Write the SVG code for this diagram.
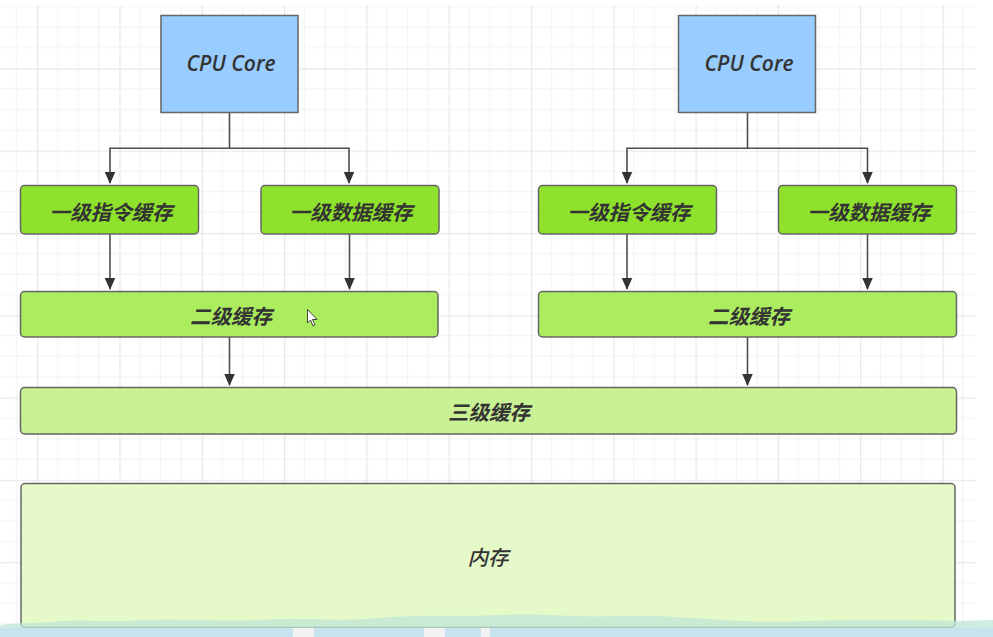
<svg xmlns="http://www.w3.org/2000/svg" width="993" height="637" viewBox="0 0 993 637">
<style>
.box{stroke:#666;stroke-width:1.5}
.cpu{fill:#99ccff}
.l1{fill:#8fe22c}
.l2{fill:#abed5e}
.l3{fill:#c9f294}
.mem{fill:#e6f9c8}
.en{font-family:"Open Sans","DejaVu Sans",sans-serif;font-style:italic;font-weight:600;font-size:21px;fill:#333;text-anchor:middle;dominant-baseline:central}
.zh{font-family:"Noto Sans CJK SC","Noto Sans",sans-serif;font-style:italic;font-weight:bold;font-size:20.5px;fill:#333;text-anchor:middle;dominant-baseline:central}
.zhl{font-family:"Noto Sans CJK SC","Noto Sans",sans-serif;font-style:italic;font-weight:500;font-size:20.5px;fill:#333;text-anchor:middle;dominant-baseline:central}
.con{fill:none;stroke:#4d4d4d;stroke-width:1.6}
</style>
<defs>
<pattern id="grid" patternUnits="userSpaceOnUse" x="37.1" y="68.3" width="82.3" height="82.3">
<path d="M20.58 0V82.3M41.15 0V82.3M61.73 0V82.3M0 20.58H82.3M0 41.15H82.3M0 61.73H82.3" stroke="#f3f3f3" stroke-width="1.2" fill="none"/>
<path d="M0.6 0V82.3M0 0.6H82.3" stroke="#e8e8e8" stroke-width="1.3" fill="none"/>
</pattern>
<marker id="arr" markerWidth="12" markerHeight="15" refX="12" refY="6" orient="auto" markerUnits="userSpaceOnUse" viewBox="0 0 13 12">
<path d="M0 0.3L13 6L0 11.7Z" fill="#333"/>
</marker>
</defs>
<rect x="0" y="0" width="993" height="637" fill="#ffffff"/>
<rect x="0" y="5" width="976" height="632" fill="url(#grid)"/>

<g id="connectors">
<path class="con" d="M229.5 112V148.3H110V183" marker-end="url(#arr)"/>
<path class="con" d="M229.5 148.3H349V183" marker-end="url(#arr)"/>
<path class="con" d="M747.5 112V148.3H627V183" marker-end="url(#arr)"/>
<path class="con" d="M747.5 148.3H867.5V183" marker-end="url(#arr)"/>
<path class="con" d="M110 234V289" marker-end="url(#arr)"/>
<path class="con" d="M349.5 234V289" marker-end="url(#arr)"/>
<path class="con" d="M627 234V289" marker-end="url(#arr)"/>
<path class="con" d="M867.5 234V289" marker-end="url(#arr)"/>
<path class="con" d="M229.5 337V385" marker-end="url(#arr)"/>
<path class="con" d="M747.5 337V385" marker-end="url(#arr)"/>
</g>

<g id="cpu1"><rect class="box cpu" x="161" y="15.5" width="137" height="97"/><text class="en" x="231" y="63">CPU Core</text></g>
<g id="cpu2"><rect class="box cpu" x="678.5" y="15.5" width="137" height="97"/><text class="en" x="749" y="63">CPU Core</text></g>

<g id="l1i-1"><rect class="box l1" x="20.5" y="185.5" width="178" height="48.5" rx="4"/><text class="zh" x="111" y="211">一级指令缓存</text></g>
<g id="l1d-1"><rect class="box l1" x="261" y="185.5" width="178" height="48.5" rx="4"/><text class="zh" x="351" y="211">一级数据缓存</text></g>
<g id="l1i-2"><rect class="box l1" x="538.5" y="185.5" width="178" height="48.5" rx="4"/><text class="zh" x="629" y="211">一级指令缓存</text></g>
<g id="l1d-2"><rect class="box l1" x="778.5" y="185.5" width="178" height="48.5" rx="4"/><text class="zh" x="869" y="211">一级数据缓存</text></g>

<g id="l2-1"><rect class="box l2" x="20.5" y="291.5" width="417.5" height="45.5" rx="4"/><text class="zh" x="231" y="314.5">二级缓存</text></g>
<g id="l2-2"><rect class="box l2" x="538.5" y="291.5" width="418" height="45.5" rx="4"/><text class="zh" x="749" y="314.5">二级缓存</text></g>

<g id="l3"><rect class="box l3" x="20.5" y="387.5" width="936" height="46.5" rx="4"/><text class="zh" x="489" y="410.5">三级缓存</text></g>

<g id="mem"><rect class="box mem" x="21" y="483.5" width="934" height="144" rx="4"/><text class="zhl" x="488" y="556">内存</text></g>

<g id="cursor"><path d="M307.5 309.5V323L310.5 320L313 326L315 325L312.5 319.5L317 319.5Z" fill="#fff" stroke="#333" stroke-width="0.9"/></g>

<g id="bottom-band">
<path d="M0 625C20 622 40 624 60 621C90 619 110 623 140 620C180 618 220 622 260 620C300 617 340 622 380 618C420 614 460 617 500 615C540 613 580 618 620 616C660 615 700 619 740 621C780 623 820 620 860 620C900 619 940 622 993 620V637H0Z" fill="#bfe6d8" opacity="0.75"/>
<rect x="0" y="628" width="993" height="9" fill="#c6e3ee"/>
<rect x="293" y="628" width="21" height="9" fill="#f2f2f2"/>
<rect x="424" y="628" width="21" height="9" fill="#f2f2f2"/>
<rect x="481" y="628" width="9" height="9" fill="#f2f2f2"/>
</g>
</svg>
